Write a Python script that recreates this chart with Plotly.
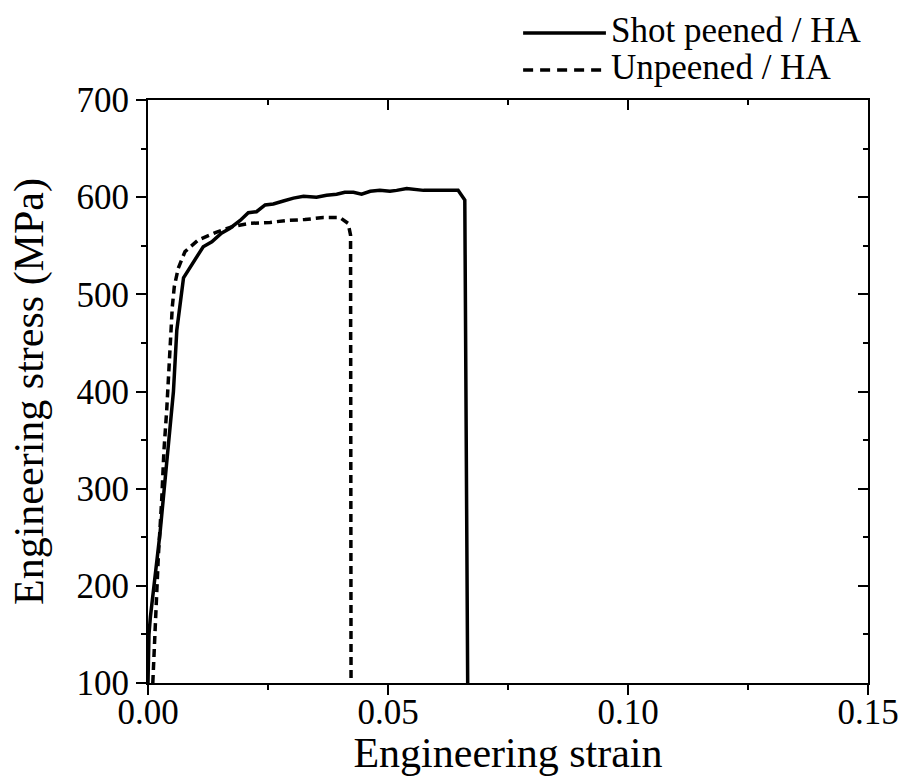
import plotly.graph_objects as go

# Shot peened / HA
shot_strain = [0.0, 0.0002, 0.0005, 0.0025, 0.0053, 0.0060, 0.0074, 0.0098, 0.0115, 0.0133,
               0.0153, 0.0171, 0.0192, 0.0209, 0.0226, 0.0244, 0.0261, 0.0282, 0.0303, 0.0324,
               0.0351, 0.0372, 0.0393, 0.0410, 0.0428, 0.0445, 0.0463, 0.0483, 0.0504, 0.0518,
               0.0539, 0.0574, 0.0608, 0.0646, 0.0660, 0.0666]
shot_stress = [100, 150, 168, 254, 400, 463, 517, 535, 549, 554,
               563, 568, 576, 584, 585, 592, 593, 596, 599, 601,
               600, 602, 603, 605, 605, 603, 606, 607, 606, 607,
               609, 607, 607, 607, 597, 100]

# Unpeened / HA
unp_strain = [0.0010, 0.00146, 0.00167, 0.00215, 0.00285, 0.00333, 0.0039, 0.00423, 0.00458,
              0.00506, 0.00548, 0.00631, 0.00771, 0.01048, 0.01431, 0.01777, 0.02125, 0.02542,
              0.0289, 0.0327, 0.0365, 0.0400, 0.0417, 0.0422, 0.0423]
unp_stress = [100, 155, 193, 230, 288, 340, 381, 415, 453,
              487, 508, 527, 544, 556, 564, 570, 573, 574,
              576, 577, 579, 579, 573, 561, 100]

legend_names = ["Shot peened / HA", "Unpeened / HA"]
x_ticks = [0.00, 0.05, 0.10, 0.15]
x_ticklabels = ["0.00", "0.05", "0.10", "0.15"]
y_ticks = [100, 200, 300, 400, 500, 600, 700]

FONT = "Liberation Serif"
FS = 35

fig = go.Figure()
fig.add_trace(go.Scatter(x=shot_strain, y=shot_stress, mode="lines", name=legend_names[0],
                         line=dict(color="black", width=3.5), showlegend=False))
fig.add_trace(go.Scatter(x=unp_strain, y=unp_stress, mode="lines", name=legend_names[1],
                         line=dict(color="black", width=3.5, dash="8px,5px"), showlegend=False))

# manual legend (long sample lines as in the reference)
fig.add_shape(type="line", xref="paper", yref="paper", x0=0.521, x1=0.636, y0=1.115, y1=1.115,
              line=dict(color="black", width=3.5))
fig.add_shape(type="line", xref="paper", yref="paper", x0=0.521, x1=0.636, y0=1.0515, y1=1.0515,
              line=dict(color="black", width=3.5, dash="10px,7px"))
fig.add_annotation(xref="paper", yref="paper", x=0.64, y=1.12, text=legend_names[0],
                   showarrow=False, xanchor="left", yanchor="middle",
                   font=dict(family=FONT, size=FS, color="black"))
fig.add_annotation(xref="paper", yref="paper", x=0.64, y=1.056, text=legend_names[1],
                   showarrow=False, xanchor="left", yanchor="middle",
                   font=dict(family=FONT, size=FS, color="black"))

common = dict(showgrid=False, zeroline=False, showline=True, linecolor="black", linewidth=2,
              automargin=False)

fig.update_layout(
    width=905, height=776,
    margin=dict(l=148, r=37, t=100, b=93),
    plot_bgcolor="white", paper_bgcolor="white",
    font=dict(family=FONT, size=FS, color="black"),
    xaxis=dict(range=[0, 0.15], tickvals=x_ticks, ticktext=x_ticklabels,
               ticks="outside", ticklen=10, tickwidth=2, tickcolor="black",
               ticklabelstandoff=-13,
               minor=dict(tickvals=[0.025, 0.075, 0.125], ticks="outside", ticklen=5,
                          tickwidth=2, tickcolor="black"),
               title=dict(text="Engineering strain", standoff=0),
               tickfont=dict(size=FS), **common),
    yaxis=dict(range=[100, 700], tickvals=y_ticks,
               ticks="outside", ticklen=10, tickwidth=2, tickcolor="black",
               minor=dict(tickvals=[150, 250, 350, 450, 550, 650], ticks="outside", ticklen=5,
                          tickwidth=2, tickcolor="black"),
               title=dict(text="Engineering stress (MPa)", standoff=20),
               tickfont=dict(size=FS), **common),
    xaxis2=dict(range=[0, 0.15], overlaying="x", side="top", tickvals=x_ticks,
                showticklabels=False, ticks="inside", ticklen=10, tickwidth=2, tickcolor="black",
                minor=dict(tickvals=[0.025, 0.075, 0.125], ticks="inside", ticklen=5,
                           tickwidth=2, tickcolor="black"),
                **common),
    yaxis2=dict(range=[100, 700], overlaying="y", side="right", tickvals=y_ticks,
                showticklabels=False, ticks="inside", ticklen=10, tickwidth=2, tickcolor="black",
                minor=dict(tickvals=[150, 250, 350, 450, 550, 650], ticks="inside", ticklen=5,
                           tickwidth=2, tickcolor="black"),
                **common),
)
# invisible trace to activate the mirrored axes
fig.add_trace(go.Scatter(x=[None], y=[None], xaxis="x2", yaxis="y2", showlegend=False,
                         hoverinfo="skip"))

fig.write_html("out.html", config={"displayModeBar": False},
               post_script="document.body.style.margin='0';document.body.style.padding='0';")
